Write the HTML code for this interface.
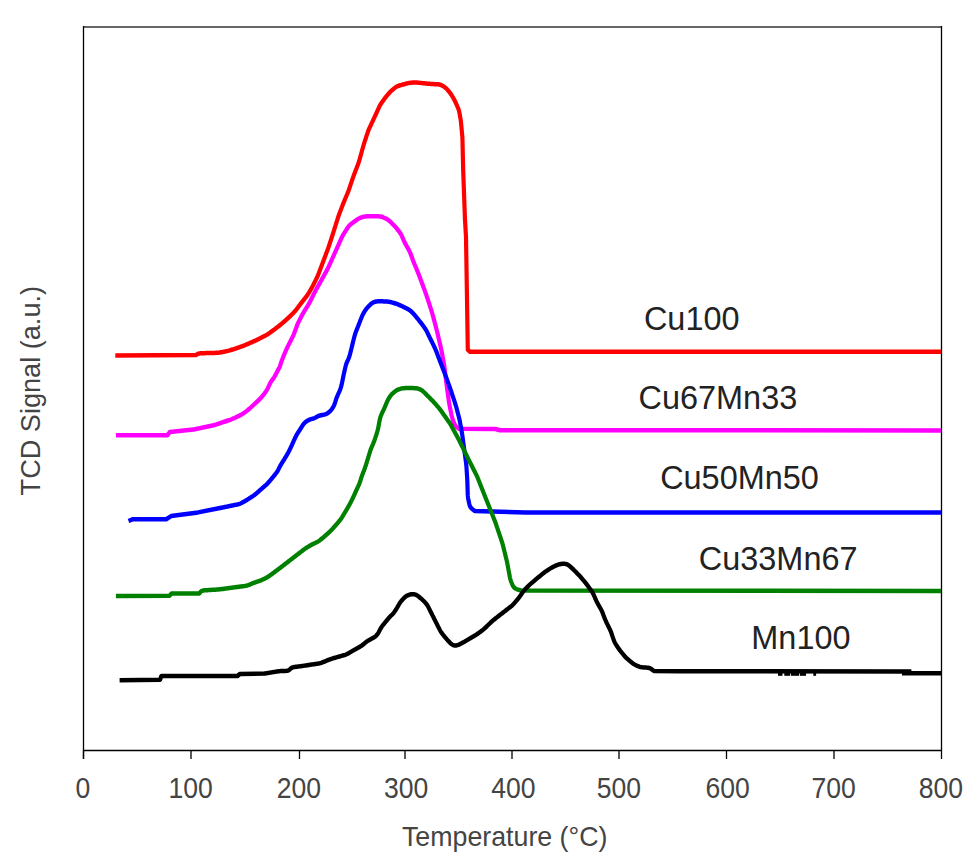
<!DOCTYPE html>
<html><head><meta charset="utf-8"><style>
html,body{margin:0;padding:0;background:#fff;}
body{width:979px;height:866px;overflow:hidden;}
svg{display:block;}
text{font-family:"Liberation Sans",sans-serif;fill:#222;}
.tl{font-size:29.5px;fill:#444;}
.sl{font-size:33px;}
.ax{font-size:28px;fill:#444;}
</style></head><body>
<svg width="979" height="866" viewBox="0 0 979 866">
<rect x="0" y="0" width="979" height="866" fill="#fff"/>
<line x1="83" y1="27" x2="941.5" y2="27" stroke="#666" stroke-width="2"/>
<line x1="941.5" y1="26" x2="941.5" y2="750.5" stroke="#000" stroke-width="1.3"/>
<line x1="83.5" y1="26" x2="83.5" y2="759" stroke="#000" stroke-width="1.3"/>
<line x1="83" y1="750.5" x2="942" y2="750.5" stroke="#000" stroke-width="1.3"/>
<line x1="83.5" y1="750" x2="83.5" y2="759" stroke="#000" stroke-width="1.3"/><line x1="191" y1="750" x2="191" y2="759" stroke="#000" stroke-width="1.3"/><line x1="299.5" y1="750" x2="299.5" y2="759" stroke="#000" stroke-width="1.3"/><line x1="405" y1="750" x2="405" y2="759" stroke="#000" stroke-width="1.3"/><line x1="512" y1="750" x2="512" y2="759" stroke="#000" stroke-width="1.3"/><line x1="619" y1="750" x2="619" y2="759" stroke="#000" stroke-width="1.3"/><line x1="726.5" y1="750" x2="726.5" y2="759" stroke="#000" stroke-width="1.3"/><line x1="834" y1="750" x2="834" y2="759" stroke="#000" stroke-width="1.3"/><line x1="941.5" y1="750" x2="941.5" y2="759" stroke="#000" stroke-width="1.3"/>
<path transform="scale(0.93,1)" d="M123.98,355.40L210.75,355.00L211.41,354.61L212.07,354.24L212.76,353.93L213.47,353.68L214.21,353.50L214.97,353.37L215.76,353.29L216.55,353.24L217.35,353.21L218.16,353.18L218.96,353.16L219.77,353.14L220.58,353.13L221.38,353.11L222.19,353.09L223.00,353.07L223.81,353.05L224.61,353.03L225.42,353.02L226.23,353.00L227.04,352.98L227.84,352.96L228.65,352.94L229.46,352.92L230.26,352.90L231.07,352.88L231.88,352.86L232.68,352.83L233.49,352.78L234.29,352.73L235.09,352.65L235.89,352.56L236.69,352.44L237.48,352.32L238.27,352.19L239.07,352.05L239.86,351.90L240.65,351.76L241.44,351.61L242.24,351.47L243.03,351.32L243.82,351.16L244.60,351.00L245.39,350.82L246.17,350.63L246.94,350.43L247.71,350.21L248.48,349.98L249.25,349.75L250.02,349.52L250.78,349.28L251.55,349.04L252.32,348.80L253.08,348.56L253.85,348.32L254.61,348.08L255.38,347.85L256.14,347.61L256.91,347.37L257.67,347.13L258.44,346.88L259.20,346.64L259.96,346.39L260.72,346.13L261.47,345.86L262.22,345.59L262.97,345.31L263.72,345.02L264.46,344.73L265.20,344.43L265.95,344.13L266.69,343.84L267.43,343.54L268.17,343.24L268.91,342.95L269.65,342.65L270.39,342.35L271.14,342.05L271.88,341.75L272.61,341.45L273.35,341.14L274.09,340.83L274.82,340.51L275.54,340.19L276.27,339.86L276.99,339.52L277.71,339.19L278.43,338.85L279.15,338.51L279.87,338.17L280.59,337.83L281.31,337.49L282.03,337.15L282.75,336.81L283.47,336.46L284.19,336.12L284.91,335.78L285.62,335.42L286.33,335.06L287.02,334.69L287.71,334.30L288.39,333.90L289.06,333.48L289.72,333.05L290.38,332.62L291.03,332.17L291.68,331.73L292.33,331.29L292.98,330.84L293.63,330.40L294.28,329.95L294.94,329.51L295.58,329.06L296.23,328.61L296.88,328.17L297.53,327.71L298.17,327.26L298.80,326.80L299.44,326.33L300.07,325.86L300.69,325.39L301.32,324.91L301.94,324.43L302.56,323.96L303.19,323.48L303.81,323.00L304.42,322.51L305.04,322.02L305.65,321.53L306.26,321.04L306.86,320.54L307.47,320.04L308.07,319.54L308.67,319.04L309.26,318.53L309.86,318.02L310.45,317.51L311.03,316.99L311.61,316.47L312.19,315.95L312.77,315.42L313.34,314.89L313.91,314.36L314.48,313.83L315.05,313.30L315.61,312.76L316.17,312.21L316.71,311.66L317.24,311.10L317.77,310.53L318.27,309.95L318.77,309.36L319.27,308.77L319.75,308.17L320.24,307.57L320.72,306.97L321.21,306.37L321.69,305.77L322.18,305.17L322.67,304.57L323.15,303.97L323.64,303.37L324.13,302.77L324.63,302.18L325.12,301.59L325.62,301.00L326.12,300.41L326.62,299.82L327.12,299.23L327.62,298.64L328.12,298.05L328.62,297.46L329.11,296.86L329.60,296.27L330.08,295.66L330.55,295.05L331.01,294.44L331.44,293.81L331.87,293.17L332.29,292.53L332.70,291.88L333.10,291.23L333.50,290.58L333.91,289.93L334.31,289.28L334.71,288.63L335.10,287.97L335.50,287.32L335.89,286.66L336.27,286.00L336.65,285.34L337.02,284.67L337.39,284.00L337.75,283.33L338.11,282.66L338.46,281.98L338.82,281.31L339.17,280.63L339.53,279.96L339.88,279.29L340.24,278.61L340.59,277.93L340.93,277.26L341.27,276.57L341.60,275.89L341.92,275.20L342.23,274.51L342.53,273.81L342.82,273.11L343.11,272.41L343.40,271.71L343.68,271.00L343.96,270.30L344.25,269.60L344.53,268.90L344.82,268.19L345.10,267.49L345.38,266.79L345.67,266.08L345.95,265.38L346.23,264.68L346.52,263.97L346.80,263.27L347.08,262.57L347.37,261.86L347.65,261.16L347.94,260.46L348.22,259.76L348.51,259.05L348.79,258.35L349.08,257.65L349.37,256.95L349.65,256.24L349.94,255.54L350.22,254.84L350.51,254.13L350.79,253.43L351.08,252.73L351.36,252.03L351.65,251.32L351.93,250.62L352.21,249.92L352.48,249.21L352.76,248.50L353.02,247.79L353.28,247.08L353.54,246.37L353.80,245.66L354.05,244.95L354.30,244.23L354.56,243.52L354.81,242.81L355.06,242.09L355.31,241.38L355.56,240.67L355.82,239.95L356.07,239.24L356.32,238.53L356.57,237.81L356.82,237.10L357.08,236.38L357.33,235.67L357.58,234.96L357.82,234.24L358.07,233.53L358.31,232.81L358.56,232.09L358.80,231.38L359.04,230.66L359.28,229.95L359.53,229.23L359.77,228.51L360.01,227.80L360.25,227.08L360.49,226.36L360.73,225.65L360.97,224.93L361.22,224.21L361.46,223.50L361.70,222.78L361.94,222.06L362.18,221.35L362.42,220.63L362.67,219.91L362.91,219.20L363.15,218.48L363.40,217.76L363.65,217.05L363.90,216.34L364.17,215.63L364.43,214.92L364.71,214.21L364.99,213.51L365.27,212.81L365.56,212.10L365.84,211.40L366.13,210.70L366.42,210.00L366.70,209.30L366.99,208.59L367.28,207.89L367.56,207.19L367.85,206.49L368.14,205.79L368.43,205.08L368.72,204.38L369.01,203.68L369.31,202.99L369.61,202.29L369.92,201.60L370.23,200.90L370.54,200.21L370.86,199.52L371.17,198.83L371.49,198.14L371.80,197.44L372.12,196.75L372.43,196.06L372.75,195.37L373.06,194.68L373.37,193.99L373.68,193.29L373.98,192.60L374.28,191.90L374.57,191.20L374.85,190.49L375.12,189.78L375.38,189.08L375.64,188.37L375.90,187.65L376.16,186.94L376.42,186.23L376.67,185.52L376.93,184.81L377.19,184.09L377.45,183.38L377.70,182.67L377.96,181.96L378.22,181.25L378.47,180.53L378.73,179.82L378.99,179.11L379.25,178.40L379.52,177.69L379.79,176.98L380.07,176.28L380.34,175.57L380.63,174.87L380.91,174.17L381.20,173.47L381.49,172.77L381.78,172.06L382.07,171.36L382.36,170.66L382.65,169.96L382.94,169.26L383.23,168.56L383.51,167.86L383.80,167.16L384.09,166.45L384.38,165.75L384.67,165.05L384.95,164.35L385.22,163.64L385.49,162.93L385.75,162.22L385.99,161.51L386.23,160.79L386.46,160.07L386.68,159.35L386.90,158.63L387.11,157.90L387.33,157.18L387.55,156.46L387.76,155.73L387.98,155.01L388.19,154.28L388.41,153.56L388.62,152.84L388.84,152.11L389.05,151.39L389.27,150.66L389.49,149.94L389.70,149.22L389.92,148.49L390.13,147.77L390.35,147.05L390.57,146.32L390.80,145.60L391.03,144.88L391.26,144.17L391.50,143.45L391.74,142.73L391.99,142.02L392.24,141.30L392.49,140.59L392.75,139.88L393.00,139.16L393.25,138.45L393.50,137.74L393.75,137.02L394.01,136.31L394.26,135.60L394.51,134.88L394.76,134.17L395.02,133.46L395.28,132.74L395.54,132.03L395.81,131.33L396.09,130.62L396.38,129.93L396.69,129.23L397.01,128.54L397.34,127.86L397.67,127.18L398.01,126.50L398.36,125.82L398.70,125.14L399.05,124.46L399.39,123.78L399.73,123.10L400.08,122.42L400.42,121.74L400.77,121.06L401.11,120.38L401.46,119.70L401.80,119.02L402.14,118.34L402.49,117.66L402.83,116.98L403.17,116.30L403.51,115.62L403.84,114.94L404.18,114.25L404.51,113.57L404.84,112.89L405.18,112.20L405.51,111.52L405.84,110.83L406.17,110.15L406.51,109.46L406.84,108.78L407.17,108.10L407.51,107.42L407.86,106.74L408.21,106.07L408.59,105.40L408.98,104.75L409.39,104.11L409.82,103.48L410.27,102.86L410.73,102.24L411.20,101.63L411.67,101.02L412.14,100.41L412.61,99.80L413.09,99.19L413.57,98.59L414.06,97.99L414.55,97.40L415.05,96.81L415.56,96.23L416.07,95.64L416.58,95.07L417.10,94.49L417.62,93.92L418.15,93.35L418.68,92.79L419.23,92.24L419.79,91.70L420.36,91.17L420.95,90.66L421.55,90.16L422.15,89.67L422.77,89.18L423.39,88.70L424.01,88.23L424.65,87.78L425.29,87.34L425.96,86.94L426.65,86.58L427.36,86.26L428.09,85.98L428.84,85.73L429.61,85.50L430.38,85.29L431.15,85.08L431.93,84.88L432.71,84.67L433.48,84.47L434.26,84.27L435.04,84.06L435.81,83.86L436.59,83.66L437.37,83.47L438.15,83.29L438.94,83.13L439.72,82.99L440.52,82.87L441.32,82.78L442.12,82.71L442.92,82.65L443.72,82.60L444.53,82.57L445.33,82.54L446.14,82.53L446.94,82.53L447.75,82.55L448.55,82.59L449.36,82.65L450.16,82.72L450.96,82.79L451.76,82.87L452.57,82.96L453.37,83.04L454.17,83.12L454.97,83.20L455.78,83.28L456.58,83.35L457.39,83.43L458.19,83.50L458.99,83.57L459.80,83.64L460.60,83.71L461.40,83.78L462.21,83.85L463.01,83.91L463.82,83.96L464.62,84.01L465.43,84.05L466.24,84.09L467.04,84.13L467.85,84.16L468.66,84.20L469.46,84.24L470.26,84.29L471.06,84.35L471.85,84.44L472.62,84.57L473.38,84.75L474.12,84.98L474.84,85.26L475.55,85.59L476.24,85.96L476.92,86.35L477.58,86.77L478.22,87.21L478.85,87.68L479.44,88.17L480.02,88.68L480.58,89.22L481.13,89.77L481.66,90.33L482.19,90.89L482.71,91.47L483.22,92.04L483.72,92.63L484.21,93.23L484.68,93.83L485.13,94.45L485.56,95.08L485.98,95.72L486.39,96.37L486.80,97.02L487.21,97.67L487.60,98.32L488.00,98.97L488.39,99.63L488.76,100.30L489.13,100.96L489.48,101.64L489.83,102.31L490.17,103.00L490.50,103.68L490.83,104.36L491.16,105.05L491.49,105.74L491.82,106.42L492.14,107.11L492.45,107.80L492.74,108.50L493.01,109.20L493.26,109.91L493.48,110.63L493.67,111.35L493.84,112.08L494.00,112.82L494.15,113.55L494.29,114.29L494.44,115.03L494.58,115.77L494.72,116.51L494.86,117.25L495.00,117.99L495.13,118.73L495.26,119.47L495.38,120.21L495.50,120.96L495.60,121.70L495.70,122.45L495.79,123.19L495.87,123.94L495.94,124.69L496.02,125.43L496.09,126.18L496.17,126.93L496.24,127.68L496.32,128.43L496.39,129.17L496.46,129.92L496.54,130.67L496.61,131.42L496.69,132.16L496.76,132.91L496.83,133.66L496.91,134.41L496.98,135.16L497.06,135.90L497.13,136.65L497.20,137.40L498.06,170.90L500.00,220.00L501.08,237.00L502.04,292.40L503.01,349.70L505.38,351.70L1011.83,351.80" fill="none" stroke="#ff0000" stroke-width="4.5" stroke-linejoin="round" stroke-linecap="butt"/>
<path transform="scale(0.93,1)" d="M124.62,435.30L180.00,435.20L182.69,432.00L207.74,429.60L208.53,429.44L209.32,429.29L210.11,429.13L210.90,428.97L211.69,428.82L212.48,428.66L213.26,428.50L214.05,428.35L214.84,428.19L215.63,428.03L216.42,427.88L217.21,427.72L218.00,427.56L218.79,427.41L219.58,427.25L220.37,427.09L221.15,426.94L221.94,426.78L222.73,426.62L223.52,426.46L224.31,426.31L225.10,426.15L225.89,425.99L226.68,425.84L227.47,425.68L228.25,425.52L229.04,425.35L229.82,425.18L230.61,425.00L231.38,424.81L232.16,424.60L232.93,424.38L233.70,424.15L234.46,423.92L235.23,423.68L235.99,423.43L236.75,423.19L237.52,422.95L238.28,422.70L239.04,422.46L239.81,422.22L240.57,421.97L241.33,421.73L242.10,421.49L242.86,421.24L243.62,421.00L244.38,420.76L245.15,420.51L245.91,420.27L246.67,420.02L247.43,419.77L248.19,419.52L248.94,419.25L249.69,418.98L250.44,418.69L251.18,418.39L251.91,418.09L252.64,417.77L253.37,417.45L254.10,417.13L254.83,416.81L255.56,416.48L256.28,416.16L257.01,415.83L257.73,415.49L258.44,415.14L259.15,414.78L259.85,414.41L260.54,414.02L261.22,413.63L261.90,413.22L262.57,412.81L263.23,412.38L263.88,411.94L264.53,411.50L265.17,411.04L265.80,410.57L266.43,410.10L267.04,409.62L267.66,409.13L268.26,408.64L268.86,408.14L269.46,407.63L270.06,407.13L270.65,406.62L271.24,406.11L271.84,405.60L272.43,405.10L273.03,404.59L273.63,404.09L274.22,403.58L274.82,403.08L275.42,402.57L276.01,402.07L276.60,401.56L277.19,401.04L277.78,400.53L278.35,400.00L278.92,399.47L279.47,398.93L280.02,398.38L280.56,397.82L281.09,397.25L281.61,396.68L282.13,396.11L282.65,395.53L283.15,394.95L283.66,394.36L284.15,393.77L284.63,393.17L285.10,392.56L285.56,391.95L286.01,391.33L286.44,390.70L286.86,390.06L287.26,389.41L287.64,388.75L288.01,388.09L288.37,387.41L288.71,386.74L289.05,386.05L289.38,385.37L289.71,384.69L290.04,384.01L290.39,383.34L290.76,382.68L291.16,382.05L291.60,381.43L292.06,380.82L292.54,380.23L293.02,379.63L293.50,379.03L293.96,378.42L294.41,377.80L294.83,377.17L295.24,376.52L295.63,375.87L296.02,375.21L296.40,374.55L296.77,373.89L297.14,373.22L297.51,372.55L297.89,371.89L298.27,371.23L298.65,370.57L299.04,369.91L299.43,369.26L299.80,368.60L300.17,367.93L300.51,367.26L300.82,366.57L301.11,365.88L301.38,365.17L301.63,364.46L301.88,363.75L302.12,363.04L302.37,362.32L302.63,361.61L302.90,360.91L303.18,360.20L303.47,359.50L303.76,358.81L304.05,358.11L304.35,357.41L304.65,356.71L304.95,356.02L305.25,355.32L305.56,354.63L305.86,353.93L306.18,353.24L306.49,352.55L306.81,351.86L307.13,351.17L307.45,350.48L307.78,349.80L308.11,349.11L308.44,348.43L308.79,347.75L309.13,347.08L309.49,346.40L309.85,345.73L310.21,345.06L310.57,344.39L310.94,343.72L311.30,343.05L311.67,342.38L312.03,341.71L312.40,341.04L312.76,340.38L313.13,339.71L313.49,339.04L313.86,338.37L314.22,337.70L314.57,337.02L314.92,336.35L315.26,335.67L315.59,334.99L315.90,334.30L316.20,333.60L316.49,332.90L316.78,332.20L317.05,331.49L317.33,330.79L317.60,330.08L317.88,329.38L318.15,328.67L318.43,327.97L318.70,327.26L318.98,326.56L319.26,325.86L319.55,325.16L319.86,324.46L320.17,323.77L320.50,323.09L320.84,322.41L321.19,321.74L321.55,321.06L321.91,320.39L322.27,319.72L322.63,319.05L323.00,318.38L323.36,317.71L323.73,317.04L324.09,316.38L324.46,315.71L324.84,315.05L325.22,314.39L325.62,313.73L326.02,313.08L326.43,312.44L326.85,311.80L327.27,311.16L327.70,310.52L328.13,309.89L328.55,309.25L328.98,308.61L329.41,307.98L329.84,307.34L330.27,306.71L330.69,306.07L331.11,305.43L331.53,304.79L331.94,304.14L332.34,303.49L332.72,302.83L333.10,302.17L333.47,301.50L333.83,300.83L334.20,300.16L334.56,299.49L334.92,298.82L335.27,298.15L335.63,297.48L335.99,296.80L336.35,296.13L336.71,295.46L337.07,294.79L337.43,294.12L337.79,293.44L338.15,292.77L338.51,292.11L338.88,291.44L339.26,290.78L339.64,290.11L340.03,289.46L340.42,288.80L340.81,288.14L341.20,287.49L341.60,286.83L341.99,286.18L342.38,285.52L342.78,284.87L343.17,284.22L343.57,283.56L343.96,282.91L344.36,282.25L344.75,281.60L345.15,280.94L345.54,280.29L345.93,279.63L346.32,278.98L346.71,278.32L347.10,277.66L347.49,277.00L347.88,276.35L348.27,275.69L348.65,275.03L349.04,274.37L349.43,273.71L349.82,273.06L350.20,272.40L350.59,271.74L350.98,271.08L351.36,270.42L351.74,269.76L352.12,269.10L352.49,268.43L352.85,267.76L353.20,267.08L353.54,266.41L353.88,265.73L354.21,265.04L354.55,264.36L354.88,263.67L355.21,262.99L355.54,262.30L355.87,261.62L356.19,260.93L356.52,260.25L356.85,259.56L357.18,258.88L357.51,258.19L357.84,257.51L358.17,256.82L358.50,256.14L358.83,255.46L359.16,254.77L359.49,254.09L359.82,253.40L360.15,252.72L360.48,252.03L360.81,251.35L361.14,250.66L361.47,249.98L361.80,249.29L362.12,248.61L362.45,247.92L362.78,247.24L363.11,246.55L363.44,245.87L363.77,245.18L364.10,244.50L364.43,243.81L364.76,243.13L365.09,242.44L365.42,241.76L365.75,241.07L366.08,240.39L366.41,239.70L366.74,239.02L367.07,238.34L367.41,237.66L367.77,236.98L368.13,236.31L368.51,235.65L368.90,235.00L369.31,234.35L369.72,233.71L370.15,233.08L370.58,232.44L371.01,231.81L371.44,231.17L371.87,230.54L372.30,229.91L372.74,229.27L373.17,228.64L373.61,228.02L374.06,227.40L374.53,226.80L375.02,226.22L375.55,225.66L376.10,225.13L376.69,224.63L377.30,224.15L377.93,223.69L378.57,223.24L379.21,222.79L379.86,222.35L380.51,221.90L381.16,221.46L381.82,221.02L382.47,220.58L383.12,220.14L383.78,219.72L384.45,219.31L385.13,218.92L385.83,218.55L386.54,218.22L387.27,217.92L388.02,217.64L388.77,217.39L389.53,217.15L390.30,216.94L391.07,216.76L391.85,216.61L392.64,216.49L393.44,216.41L394.24,216.34L395.04,216.29L395.84,216.26L396.65,216.23L397.45,216.20L398.26,216.18L399.07,216.16L399.87,216.16L400.68,216.16L401.49,216.16L402.29,216.18L403.10,216.20L403.90,216.22L404.71,216.24L405.52,216.27L406.32,216.30L407.12,216.34L407.92,216.40L408.71,216.49L409.49,216.61L410.26,216.77L411.02,216.98L411.77,217.23L412.50,217.51L413.24,217.81L413.96,218.13L414.69,218.46L415.40,218.80L416.10,219.17L416.78,219.55L417.44,219.97L418.07,220.41L418.68,220.89L419.28,221.38L419.86,221.90L420.44,222.42L421.01,222.95L421.58,223.48L422.15,224.01L422.72,224.54L423.28,225.08L423.84,225.62L424.39,226.16L424.93,226.72L425.47,227.28L425.99,227.85L426.50,228.43L427.01,229.01L427.52,229.59L428.02,230.18L428.52,230.77L429.02,231.36L429.50,231.96L429.97,232.56L430.42,233.18L430.84,233.81L431.23,234.46L431.60,235.12L431.95,235.79L432.29,236.47L432.62,237.16L432.94,237.84L433.26,238.53L433.58,239.22L433.91,239.91L434.23,240.59L434.56,241.28L434.90,241.96L435.24,242.64L435.60,243.31L435.97,243.97L436.35,244.63L436.74,245.29L437.13,245.94L437.54,246.59L437.94,247.24L438.34,247.90L438.74,248.55L439.14,249.20L439.52,249.86L439.90,250.52L440.26,251.18L440.61,251.86L440.93,252.54L441.24,253.24L441.53,253.93L441.81,254.63L442.09,255.34L442.37,256.04L442.64,256.75L442.92,257.45L443.19,258.16L443.47,258.86L443.75,259.57L444.03,260.27L444.32,260.97L444.61,261.67L444.91,262.37L445.22,263.06L445.53,263.75L445.84,264.44L446.15,265.14L446.47,265.83L446.78,266.52L447.09,267.21L447.41,267.90L447.72,268.59L448.03,269.29L448.34,269.98L448.64,270.67L448.94,271.37L449.24,272.07L449.53,272.77L449.82,273.47L450.11,274.17L450.39,274.87L450.68,275.57L450.96,276.27L451.25,276.98L451.53,277.68L451.82,278.38L452.10,279.08L452.39,279.78L452.67,280.49L452.96,281.19L453.24,281.89L453.53,282.59L453.81,283.30L454.09,284.00L454.37,284.70L454.65,285.41L454.93,286.11L455.21,286.81L455.49,287.52L455.77,288.22L456.05,288.92L456.33,289.63L456.61,290.33L456.89,291.04L457.16,291.74L457.43,292.45L457.69,293.16L457.96,293.87L458.22,294.58L458.48,295.29L458.74,296.00L459.00,296.71L459.26,297.42L459.52,298.13L459.78,298.84L460.04,299.55L460.29,300.26L460.55,300.97L460.81,301.68L461.06,302.40L461.31,303.11L461.56,303.82L461.81,304.54L462.06,305.25L462.31,305.96L462.56,306.68L462.81,307.39L463.05,308.10L463.30,308.82L463.53,309.54L463.77,310.26L464.00,310.97L464.22,311.69L464.45,312.42L464.67,313.14L464.89,313.86L465.11,314.58L465.33,315.30L465.55,316.02L465.76,316.75L465.98,317.47L466.20,318.19L466.41,318.92L466.62,319.64L466.83,320.36L467.04,321.09L467.25,321.82L467.45,322.54L467.66,323.27L467.86,323.99L468.07,324.72L468.27,325.44L468.48,326.17L468.68,326.89L468.89,327.62L469.09,328.35L469.29,329.07L469.49,329.80L469.68,330.53L469.88,331.26L470.08,331.98L470.27,332.71L470.46,333.44L470.66,334.17L470.85,334.90L471.04,335.63L471.22,336.36L471.41,337.09L471.59,337.82L471.77,338.55L471.95,339.28L472.13,340.01L472.32,340.74L472.50,341.47L472.68,342.21L472.86,342.94L473.04,343.67L473.22,344.40L473.40,345.13L473.58,345.86L473.76,346.59L473.94,347.32L474.12,348.06L474.30,348.79L474.47,349.52L474.64,350.26L474.80,350.99L474.96,351.73L475.11,352.46L475.26,353.20L475.41,353.94L475.55,354.68L475.70,355.41L475.84,356.15L475.99,356.89L476.13,357.63L476.28,358.37L476.42,359.10L476.57,359.84L476.71,360.58L476.86,361.32L477.00,362.06L477.15,362.79L477.29,363.53L477.43,364.27L477.56,365.01L477.68,365.75L477.80,366.49L477.91,367.24L478.02,367.98L478.12,368.73L478.22,369.47L478.31,370.22L478.41,370.96L478.51,371.70L478.60,372.45L478.70,373.19L478.80,373.94L478.89,374.68L478.99,375.43L479.09,376.17L479.18,376.92L479.28,377.66L479.38,378.41L479.47,379.15L479.57,379.90L479.67,380.64L479.77,381.39L479.87,382.13L479.97,382.88L480.07,383.62L480.18,384.36L480.29,385.11L480.39,385.85L480.50,386.60L480.61,387.34L480.72,388.08L480.82,388.83L480.93,389.57L481.04,390.31L481.15,391.06L481.25,391.80L481.36,392.54L481.47,393.29L481.58,394.03L481.68,394.78L481.79,395.52L481.90,396.26L482.01,397.01L482.11,397.75L482.22,398.49L482.33,399.24L482.44,399.98L482.55,400.72L482.67,401.47L482.79,402.21L482.91,402.95L483.05,403.69L483.19,404.43L483.34,405.16L483.49,405.90L483.65,406.64L483.81,407.37L483.97,408.11L484.13,408.84L484.28,409.58L484.44,410.31L484.60,411.05L484.76,411.78L484.92,412.52L485.08,413.26L485.25,413.99L485.41,414.72L485.59,415.45L485.77,416.18L485.97,416.91L486.18,417.63L486.41,418.35L486.65,419.07L486.90,419.78L487.15,420.49L487.41,421.20L487.67,421.91L487.95,422.61L488.24,423.30L488.57,423.96L488.93,424.61L489.35,425.21L489.82,425.79L490.34,426.33L490.91,426.85L491.49,427.35L492.10,427.84L492.72,428.32L493.33,428.80L532.69,429.00L537.63,430.20L1011.83,430.40" fill="none" stroke="#ff00ff" stroke-width="4.5" stroke-linejoin="round" stroke-linecap="butt"/>
<path transform="scale(0.93,1)" d="M138.17,521.00L143.01,519.20L178.71,519.20L183.98,516.10L213.01,512.40L239.35,507.50L240.15,507.35L240.94,507.20L241.73,507.04L242.52,506.89L243.31,506.74L244.10,506.59L244.89,506.44L245.68,506.28L246.47,506.13L247.26,505.98L248.05,505.83L248.84,505.68L249.63,505.52L250.42,505.37L251.21,505.22L252.00,505.07L252.79,504.91L253.58,504.76L254.37,504.60L255.15,504.44L255.93,504.26L256.71,504.06L257.47,503.84L258.21,503.58L258.95,503.29L259.67,502.97L260.39,502.63L261.10,502.28L261.80,501.92L262.50,501.55L263.20,501.17L263.90,500.79L264.59,500.41L265.28,500.02L265.97,499.63L266.65,499.23L267.34,498.83L268.02,498.43L268.70,498.02L269.38,497.62L270.05,497.21L270.73,496.80L271.41,496.39L272.07,495.97L272.74,495.55L273.39,495.11L274.03,494.65L274.66,494.19L275.28,493.71L275.89,493.22L276.50,492.73L277.10,492.23L277.71,491.73L278.31,491.24L278.91,490.74L279.52,490.24L280.13,489.75L280.74,489.26L281.35,488.77L281.96,488.28L282.58,487.79L283.19,487.31L283.81,486.82L284.42,486.33L285.03,485.84L285.63,485.34L286.21,484.83L286.79,484.31L287.35,483.77L287.90,483.23L288.45,482.67L288.98,482.11L289.51,481.54L290.04,480.97L290.56,480.41L291.09,479.84L291.61,479.26L292.13,478.69L292.64,478.11L293.16,477.53L293.66,476.95L294.16,476.36L294.66,475.77L295.16,475.18L295.66,474.59L296.15,473.99L296.65,473.40L297.13,472.80L297.60,472.20L298.06,471.58L298.50,470.96L298.90,470.32L299.29,469.67L299.65,469.00L300.00,468.33L300.35,467.65L300.70,466.98L301.06,466.31L301.44,465.65L301.83,465.00L302.24,464.35L302.66,463.71L303.09,463.08L303.52,462.44L303.95,461.81L304.38,461.17L304.81,460.54L305.24,459.90L305.67,459.26L306.09,458.63L306.52,457.99L306.94,457.35L307.36,456.71L307.78,456.07L308.20,455.42L308.61,454.78L309.01,454.13L309.40,453.47L309.79,452.82L310.16,452.15L310.53,451.49L310.90,450.82L311.26,450.15L311.62,449.47L311.98,448.80L312.33,448.12L312.68,447.45L313.02,446.77L313.35,446.09L313.69,445.40L314.02,444.72L314.34,444.03L314.67,443.35L315.00,442.66L315.33,441.97L315.66,441.29L316.00,440.61L316.33,439.92L316.67,439.24L317.01,438.56L317.35,437.88L317.69,437.20L318.05,436.53L318.41,435.86L318.78,435.20L319.18,434.54L319.58,433.90L320.01,433.26L320.44,432.63L320.88,432.00L321.33,431.38L321.77,430.75L322.21,430.12L322.65,429.49L323.08,428.86L323.51,428.22L323.93,427.58L324.35,426.94L324.77,426.30L325.20,425.67L325.63,425.04L326.09,424.43L326.57,423.85L327.09,423.30L327.65,422.78L328.24,422.29L328.86,421.84L329.51,421.40L330.17,420.98L330.85,420.59L331.54,420.22L332.24,419.88L332.97,419.59L333.71,419.34L334.46,419.12L335.23,418.92L336.00,418.73L336.76,418.52L337.50,418.28L338.24,418.00L338.95,417.69L339.66,417.34L340.35,416.99L341.05,416.63L341.76,416.29L342.48,415.99L343.21,415.73L343.97,415.51L344.73,415.32L345.51,415.17L346.30,415.03L347.09,414.89L347.88,414.75L348.66,414.59L349.42,414.40L350.17,414.17L350.89,413.89L351.59,413.56L352.26,413.18L352.91,412.76L353.54,412.31L354.14,411.83L354.73,411.32L355.29,410.79L355.82,410.24L356.33,409.66L356.82,409.07L357.28,408.46L357.72,407.84L358.13,407.20L358.52,406.55L358.88,405.88L359.22,405.21L359.53,404.52L359.82,403.82L360.10,403.12L360.35,402.41L360.60,401.69L360.83,400.98L361.07,400.26L361.31,399.55L361.56,398.84L361.83,398.13L362.12,397.43L362.42,396.74L362.73,396.05L363.06,395.36L363.38,394.67L363.71,393.99L364.04,393.30L364.37,392.62L364.69,391.93L365.01,391.24L365.32,390.55L365.61,389.85L365.89,389.15L366.16,388.44L366.41,387.73L366.64,387.01L366.87,386.29L367.08,385.57L367.27,384.84L367.46,384.11L367.64,383.38L367.81,382.65L367.97,381.91L368.13,381.18L368.30,380.44L368.46,379.71L368.62,378.97L368.78,378.24L368.94,377.50L369.11,376.77L369.27,376.03L369.44,375.30L369.60,374.56L369.77,373.83L369.94,373.09L370.11,372.36L370.29,371.63L370.46,370.89L370.64,370.16L370.81,369.43L370.99,368.70L371.17,367.96L371.35,367.23L371.54,366.51L371.74,365.78L371.96,365.06L372.21,364.35L372.47,363.65L372.76,362.95L373.07,362.26L373.38,361.57L373.71,360.88L374.03,360.20L374.36,359.51L374.67,358.82L374.98,358.13L375.27,357.43L375.53,356.72L375.78,356.01L376.01,355.29L376.23,354.57L376.44,353.85L376.64,353.12L376.84,352.40L377.04,351.67L377.24,350.94L377.43,350.21L377.63,349.48L377.82,348.76L378.02,348.03L378.21,347.30L378.40,346.57L378.59,345.84L378.78,345.11L378.97,344.38L379.16,343.65L379.35,342.92L379.54,342.19L379.73,341.46L379.93,340.73L380.12,340.01L380.32,339.28L380.52,338.55L380.73,337.82L380.93,337.10L381.14,336.37L381.35,335.65L381.57,334.93L381.80,334.21L382.05,333.50L382.31,332.79L382.59,332.08L382.87,331.38L383.16,330.68L383.46,329.99L383.76,329.29L384.06,328.59L384.36,327.90L384.66,327.20L384.95,326.50L385.25,325.80L385.54,325.10L385.84,324.40L386.13,323.70L386.42,323.00L386.71,322.30L387.00,321.60L387.29,320.90L387.59,320.20L387.88,319.50L388.17,318.81L388.47,318.11L388.78,317.41L389.09,316.72L389.42,316.04L389.76,315.36L390.11,314.69L390.48,314.02L390.86,313.36L391.24,312.70L391.64,312.05L392.05,311.41L392.48,310.77L392.93,310.15L393.40,309.55L393.88,308.95L394.38,308.37L394.90,307.79L395.43,307.23L395.97,306.67L396.52,306.13L397.08,305.59L397.66,305.07L398.24,304.56L398.84,304.07L399.47,303.60L400.11,303.17L400.78,302.78L401.48,302.44L402.19,302.14L402.93,301.88L403.69,301.68L404.46,301.53L405.24,301.43L406.04,301.37L406.83,301.33L407.64,301.32L408.44,301.31L409.25,301.32L410.06,301.32L410.86,301.34L411.67,301.36L412.48,301.38L413.28,301.41L414.09,301.44L414.89,301.48L415.70,301.52L416.50,301.58L417.30,301.65L418.09,301.75L418.88,301.87L419.67,302.02L420.45,302.19L421.23,302.38L422.01,302.58L422.78,302.80L423.55,303.02L424.32,303.24L425.08,303.48L425.85,303.72L426.61,303.97L427.37,304.23L428.12,304.49L428.87,304.77L429.61,305.06L430.35,305.35L431.09,305.66L431.82,305.97L432.55,306.29L433.28,306.61L434.01,306.94L434.74,307.27L435.46,307.60L436.18,307.93L436.90,308.27L437.62,308.61L438.33,308.96L439.03,309.33L439.71,309.72L440.37,310.13L441.01,310.57L441.63,311.04L442.23,311.54L442.81,312.05L443.38,312.58L443.94,313.11L444.50,313.66L445.04,314.21L445.57,314.77L446.10,315.34L446.61,315.92L447.13,316.50L447.64,317.08L448.14,317.66L448.65,318.25L449.16,318.83L449.66,319.42L450.17,320.00L450.67,320.59L451.17,321.18L451.67,321.77L452.18,322.35L452.68,322.94L453.17,323.53L453.67,324.13L454.16,324.72L454.64,325.32L455.12,325.93L455.59,326.54L456.05,327.15L456.50,327.77L456.95,328.40L457.39,329.02L457.82,329.66L458.24,330.30L458.63,330.95L459.01,331.61L459.38,332.28L459.73,332.95L460.07,333.63L460.41,334.31L460.74,334.99L461.08,335.67L461.43,336.35L461.78,337.03L462.14,337.70L462.50,338.37L462.86,339.04L463.23,339.71L463.60,340.38L463.96,341.05L464.33,341.72L464.69,342.39L465.05,343.06L465.40,343.73L465.75,344.41L466.10,345.09L466.44,345.77L466.78,346.45L467.12,347.13L467.46,347.81L467.80,348.49L468.13,349.18L468.45,349.86L468.77,350.55L469.07,351.25L469.37,351.95L469.66,352.64L469.95,353.35L470.23,354.05L470.51,354.75L470.79,355.46L471.08,356.16L471.36,356.86L471.64,357.57L471.92,358.27L472.20,358.97L472.49,359.68L472.77,360.38L473.06,361.08L473.35,361.78L473.64,362.48L473.93,363.18L474.23,363.88L474.52,364.58L474.81,365.28L475.10,365.98L475.39,366.68L475.69,367.38L475.98,368.08L476.27,368.78L476.56,369.48L476.86,370.18L477.15,370.88L477.44,371.58L477.73,372.28L478.02,372.98L478.30,373.68L478.59,374.38L478.87,375.09L479.15,375.79L479.42,376.50L479.70,377.20L479.98,377.91L480.25,378.61L480.52,379.32L480.80,380.02L481.07,380.73L481.35,381.44L481.62,382.14L481.90,382.85L482.17,383.55L482.45,384.26L482.72,384.97L483.00,385.67L483.27,386.38L483.54,387.08L483.81,387.79L484.08,388.50L484.35,389.21L484.61,389.92L484.87,390.63L485.13,391.34L485.38,392.05L485.63,392.76L485.89,393.48L486.14,394.19L486.39,394.90L486.65,395.62L486.90,396.33L487.15,397.04L487.40,397.75L487.66,398.47L487.91,399.18L488.16,399.89L488.41,400.61L488.66,401.32L488.92,402.03L489.17,402.75L489.42,403.46L489.66,404.17L489.91,404.89L490.14,405.61L490.37,406.33L490.59,407.05L490.81,407.77L491.02,408.50L491.22,409.22L491.43,409.95L491.63,410.67L491.84,411.40L492.04,412.13L492.24,412.85L492.45,413.58L492.65,414.31L492.86,415.03L493.06,415.76L493.26,416.49L493.46,417.21L493.66,417.94L493.85,418.67L494.03,419.40L494.20,420.13L494.37,420.87L494.52,421.60L494.67,422.34L494.82,423.08L494.96,423.82L495.10,424.56L495.24,425.30L495.38,426.03L495.53,426.77L495.67,427.51L495.81,428.25L495.95,428.99L496.09,429.73L496.23,430.47L496.37,431.21L496.51,431.95L496.65,432.69L496.79,433.43L496.92,434.17L497.04,434.91L497.17,435.65L497.28,436.39L497.40,437.14L497.51,437.88L497.62,438.62L497.72,439.37L497.83,440.11L497.94,440.86L498.04,441.60L498.15,442.34L498.26,443.09L498.36,443.83L498.47,444.58L498.58,445.32L498.68,446.06L498.79,446.81L498.90,447.55L499.00,448.30L499.11,449.04L499.22,449.78L499.33,450.53L499.43,451.27L499.54,452.01L499.65,452.76L499.76,453.50L499.87,454.25L499.98,454.99L500.09,455.73L500.19,456.48L500.30,457.22L500.41,457.97L500.52,458.71L500.63,459.45L500.74,460.20L500.85,460.94L500.95,461.68L501.06,462.43L501.16,463.17L501.25,463.92L501.33,464.66L501.41,465.41L501.48,466.16L501.54,466.91L501.60,467.66L501.66,468.40L501.71,469.15L501.76,469.90L501.82,470.65L501.87,471.40L501.92,472.15L501.97,472.90L502.03,473.65L502.08,474.40L502.13,475.15L502.18,475.89L502.24,476.64L502.29,477.39L502.34,478.14L502.38,478.89L502.42,479.64L502.46,480.39L502.50,481.14L502.53,481.89L502.55,482.64L502.58,483.39L502.60,484.14L502.63,484.89L502.65,485.64L502.68,486.39L502.70,487.14L502.72,487.89L502.75,488.64L502.77,489.39L502.79,490.14L502.82,490.89L502.84,491.64L502.87,492.39L502.89,493.14L502.92,493.89L502.96,494.64L503.00,495.39L503.07,496.14L503.15,496.88L503.25,497.62L503.38,498.36L503.52,499.10L503.67,499.83L503.83,500.57L503.99,501.30L504.16,502.04L504.33,502.77L504.50,503.50L504.69,504.23L504.89,504.94L505.13,505.63L505.41,506.30L505.76,506.92L506.18,507.51L506.67,508.06L507.21,508.57L507.80,509.05L508.41,509.53L509.04,509.99L509.68,510.44L510.32,510.90L565.05,512.50L1011.83,512.50" fill="none" stroke="#0000ff" stroke-width="4.5" stroke-linejoin="round" stroke-linecap="butt"/>
<path transform="scale(0.93,1)" d="M124.62,596.00L182.26,595.80L184.41,593.40L214.30,593.50L214.75,592.91L215.22,592.34L215.71,591.83L216.26,591.38L216.86,591.03L217.52,590.75L218.23,590.56L218.97,590.43L219.75,590.34L220.54,590.27L221.34,590.22L222.14,590.17L222.95,590.13L223.75,590.08L224.56,590.04L225.36,589.99L226.17,589.95L226.97,589.90L227.78,589.86L228.58,589.81L229.39,589.77L230.19,589.72L231.00,589.68L231.80,589.63L232.61,589.59L233.41,589.54L234.22,589.48L235.02,589.42L235.82,589.35L236.63,589.28L237.43,589.19L238.23,589.10L239.03,589.00L239.83,588.90L240.62,588.80L241.42,588.70L242.22,588.60L243.02,588.49L243.82,588.39L244.62,588.28L245.42,588.18L246.22,588.08L247.02,587.97L247.81,587.87L248.61,587.77L249.41,587.67L250.21,587.57L251.01,587.47L251.81,587.37L252.61,587.27L253.41,587.18L254.21,587.08L255.01,586.98L255.81,586.89L256.61,586.79L257.41,586.70L258.21,586.60L259.01,586.50L259.81,586.41L260.61,586.31L261.41,586.21L262.21,586.11L263.00,586.00L263.79,585.87L264.58,585.73L265.36,585.55L266.12,585.35L266.88,585.12L267.64,584.86L268.38,584.59L269.13,584.31L269.87,584.02L270.62,583.74L271.37,583.46L272.12,583.19L272.88,582.93L273.63,582.68L274.39,582.43L275.16,582.19L275.92,581.94L276.68,581.69L277.44,581.44L278.20,581.19L278.95,580.92L279.70,580.65L280.45,580.36L281.19,580.07L281.93,579.78L282.67,579.48L283.40,579.17L284.13,578.85L284.85,578.52L285.56,578.17L286.27,577.81L286.96,577.43L287.65,577.04L288.33,576.64L289.01,576.24L289.68,575.82L290.35,575.40L291.01,574.97L291.66,574.53L292.31,574.09L292.96,573.64L293.61,573.20L294.25,572.74L294.90,572.29L295.54,571.84L296.18,571.39L296.83,570.94L297.47,570.49L298.12,570.04L298.76,569.59L299.41,569.14L300.05,568.69L300.70,568.24L301.34,567.79L301.99,567.34L302.63,566.88L303.28,566.43L303.92,565.98L304.56,565.52L305.20,565.06L305.83,564.60L306.47,564.14L307.11,563.68L307.74,563.22L308.38,562.76L309.02,562.30L309.65,561.84L310.29,561.38L310.92,560.92L311.56,560.46L312.20,560.00L312.84,559.54L313.48,559.08L314.12,558.62L314.75,558.17L315.39,557.71L316.03,557.25L316.67,556.80L317.31,556.34L317.95,555.88L318.59,555.42L319.23,554.97L319.87,554.51L320.51,554.05L321.14,553.59L321.78,553.13L322.42,552.67L323.05,552.20L323.69,551.74L324.33,551.28L324.96,550.82L325.60,550.37L326.25,549.92L326.89,549.47L327.55,549.04L328.21,548.61L328.88,548.20L329.56,547.79L330.24,547.39L330.93,546.99L331.61,546.60L332.30,546.21L332.99,545.83L333.69,545.45L334.39,545.07L335.09,544.71L335.80,544.36L336.52,544.02L337.25,543.70L337.98,543.38L338.71,543.06L339.44,542.75L340.16,542.42L340.88,542.09L341.58,541.73L342.26,541.35L342.93,540.94L343.58,540.51L344.21,540.05L344.84,539.58L345.46,539.10L346.07,538.62L346.68,538.13L347.29,537.64L347.90,537.15L348.51,536.66L349.12,536.17L349.73,535.67L350.34,535.18L350.95,534.69L351.55,534.20L352.16,533.70L352.77,533.21L353.37,532.71L353.97,532.20L354.56,531.69L355.14,531.18L355.71,530.65L356.27,530.11L356.82,529.57L357.37,529.02L357.91,528.46L358.45,527.90L358.99,527.34L359.52,526.78L360.06,526.22L360.59,525.66L361.12,525.09L361.65,524.53L362.18,523.96L362.70,523.39L363.22,522.82L363.74,522.24L364.26,521.67L364.77,521.09L365.28,520.51L365.78,519.92L366.27,519.33L366.74,518.72L367.19,518.10L367.63,517.48L368.06,516.84L368.48,516.20L368.89,515.56L369.30,514.92L369.71,514.27L370.13,513.63L370.54,512.98L370.95,512.34L371.37,511.69L371.78,511.05L372.20,510.41L372.61,509.76L373.03,509.12L373.44,508.48L373.85,507.83L374.25,507.18L374.65,506.53L375.04,505.87L375.43,505.21L375.81,504.55L376.18,503.89L376.55,503.22L376.93,502.56L377.30,501.89L377.67,501.23L378.04,500.56L378.40,499.89L378.76,499.22L379.12,498.55L379.47,497.87L379.81,497.19L380.15,496.51L380.49,495.83L380.82,495.15L381.15,494.46L381.48,493.78L381.81,493.10L382.14,492.41L382.47,491.73L382.80,491.04L383.14,490.36L383.47,489.68L383.81,489.00L384.14,488.31L384.48,487.63L384.82,486.95L385.15,486.27L385.48,485.58L385.81,484.90L386.13,484.21L386.43,483.52L386.72,482.82L386.99,482.12L387.25,481.41L387.50,480.69L387.74,479.98L387.98,479.26L388.22,478.55L388.46,477.83L388.71,477.12L388.97,476.41L389.23,475.70L389.51,475.00L389.80,474.30L390.09,473.60L390.39,472.90L390.69,472.21L390.98,471.51L391.28,470.81L391.57,470.11L391.85,469.41L392.13,468.71L392.40,468.00L392.66,467.29L392.91,466.58L393.16,465.86L393.41,465.15L393.66,464.44L393.90,463.72L394.14,463.01L394.38,462.29L394.62,461.57L394.85,460.85L395.08,460.14L395.32,459.42L395.55,458.70L395.78,457.98L396.01,457.26L396.25,456.54L396.48,455.83L396.71,455.11L396.95,454.39L397.18,453.67L397.42,452.96L397.65,452.24L397.90,451.52L398.14,450.81L398.40,450.10L398.67,449.40L398.95,448.69L399.25,448.00L399.56,447.31L399.88,446.62L400.20,445.93L400.53,445.25L400.85,444.56L401.17,443.87L401.47,443.18L401.77,442.48L402.06,441.78L402.35,441.08L402.62,440.38L402.89,439.67L403.16,438.96L403.42,438.25L403.68,437.54L403.94,436.83L404.19,436.12L404.44,435.40L404.68,434.69L404.92,433.97L405.16,433.26L405.39,432.54L405.62,431.82L405.84,431.10L406.05,430.38L406.25,429.65L406.44,428.92L406.61,428.19L406.77,427.46L406.92,426.72L407.07,425.98L407.21,425.25L407.36,424.51L407.51,423.77L407.65,423.03L407.80,422.30L407.96,421.56L408.11,420.82L408.27,420.09L408.44,419.36L408.61,418.63L408.81,417.90L409.02,417.19L409.27,416.48L409.54,415.78L409.84,415.09L410.16,414.40L410.50,413.72L410.84,413.04L411.19,412.37L411.54,411.69L411.89,411.02L412.23,410.34L412.57,409.66L412.90,408.97L413.23,408.29L413.55,407.60L413.87,406.91L414.18,406.22L414.49,405.53L414.80,404.84L415.12,404.14L415.43,403.45L415.74,402.76L416.06,402.07L416.39,401.39L416.73,400.71L417.08,400.04L417.45,399.38L417.84,398.73L418.25,398.08L418.68,397.45L419.12,396.83L419.58,396.21L420.06,395.62L420.56,395.04L421.09,394.48L421.65,393.95L422.22,393.43L422.82,392.93L423.42,392.44L424.04,391.96L424.66,391.49L425.29,391.04L425.95,390.62L426.62,390.23L427.31,389.88L428.02,389.57L428.76,389.30L429.52,389.06L430.28,388.85L431.06,388.67L431.84,388.51L432.63,388.37L433.42,388.27L434.21,388.20L435.01,388.15L435.82,388.12L436.62,388.11L437.43,388.10L438.23,388.10L439.04,388.10L439.84,388.10L440.65,388.10L441.46,388.10L442.26,388.10L443.07,388.10L443.88,388.11L444.68,388.12L445.48,388.14L446.28,388.18L447.08,388.24L447.87,388.34L448.65,388.47L449.43,388.64L450.19,388.85L450.94,389.09L451.68,389.36L452.38,389.68L453.07,390.04L453.72,390.45L454.34,390.89L454.95,391.38L455.53,391.88L456.11,392.40L456.69,392.92L457.26,393.45L457.83,393.98L458.40,394.51L458.97,395.04L459.53,395.58L460.10,396.11L460.67,396.64L461.24,397.18L461.80,397.71L462.37,398.25L462.93,398.78L463.50,399.31L464.06,399.85L464.63,400.39L465.19,400.93L465.74,401.47L466.29,402.02L466.84,402.57L467.38,403.12L467.92,403.68L468.46,404.24L468.99,404.81L469.52,405.37L470.05,405.94L470.58,406.50L471.10,407.07L471.62,407.65L472.13,408.23L472.63,408.82L473.12,409.41L473.60,410.01L474.07,410.62L474.54,411.23L475.01,411.84L475.48,412.45L475.94,413.06L476.41,413.67L476.87,414.29L477.34,414.90L477.81,415.51L478.27,416.12L478.74,416.73L479.21,417.34L479.68,417.95L480.15,418.56L480.62,419.18L481.09,419.79L481.55,420.40L482.02,421.01L482.48,421.62L482.94,422.24L483.38,422.87L483.81,423.50L484.23,424.14L484.64,424.78L485.04,425.43L485.44,426.09L485.83,426.74L486.21,427.40L486.60,428.06L486.99,428.72L487.37,429.38L487.76,430.03L488.14,430.69L488.53,431.35L488.92,432.01L489.30,432.67L489.69,433.33L490.07,433.99L490.46,434.64L490.84,435.30L491.23,435.96L491.61,436.62L492.00,437.28L492.38,437.94L492.75,438.61L493.12,439.27L493.49,439.94L493.85,440.61L494.21,441.28L494.57,441.95L494.93,442.63L495.28,443.30L495.64,443.97L496.00,444.65L496.35,445.32L496.71,445.99L497.07,446.66L497.42,447.34L497.78,448.01L498.13,448.68L498.49,449.36L498.85,450.03L499.20,450.70L499.56,451.38L499.91,452.05L500.27,452.72L500.63,453.40L500.98,454.07L501.34,454.74L501.69,455.41L502.05,456.09L502.41,456.76L502.77,457.43L503.13,458.10L503.49,458.77L503.85,459.44L504.21,460.12L504.57,460.79L504.93,461.46L505.30,462.13L505.66,462.80L506.02,463.47L506.38,464.14L506.74,464.81L507.11,465.48L507.47,466.15L507.83,466.82L508.19,467.49L508.56,468.16L508.92,468.83L509.28,469.50L509.64,470.17L510.01,470.84L510.37,471.51L510.73,472.18L511.09,472.85L511.45,473.52L511.82,474.19L512.18,474.86L512.54,475.53L512.90,476.20L522.80,499.30L532.69,522.40L532.95,523.11L533.20,523.82L533.46,524.53L533.72,525.25L533.98,525.96L534.23,526.67L534.49,527.38L534.75,528.09L535.01,528.80L535.26,529.51L535.52,530.23L535.78,530.94L536.04,531.65L536.29,532.36L536.55,533.07L536.81,533.78L537.06,534.49L537.32,535.21L537.58,535.92L537.84,536.63L538.09,537.34L538.35,538.05L538.61,538.76L538.87,539.48L539.12,540.19L539.37,540.90L539.62,541.61L539.86,542.33L540.10,543.05L540.32,543.77L540.53,544.49L540.74,545.22L540.94,545.94L541.14,546.67L541.34,547.40L541.53,548.13L541.73,548.86L541.92,549.58L542.12,550.31L542.31,551.04L542.51,551.77L542.70,552.50L542.90,553.23L543.09,553.96L543.29,554.68L543.48,555.41L543.68,556.14L543.87,556.87L544.06,557.60L544.26,558.33L544.45,559.06L544.64,559.79L544.82,560.52L545.00,561.25L545.17,561.98L545.34,562.72L545.50,563.45L545.65,564.19L545.80,564.93L545.95,565.66L546.10,566.40L546.24,567.14L546.39,567.88L546.54,568.62L546.68,569.35L546.83,570.09L546.98,570.83L547.12,571.57L547.27,572.31L547.42,573.05L547.56,573.78L547.71,574.52L547.86,575.26L548.01,576.00L548.16,576.73L548.31,577.47L548.48,578.20L548.67,578.93L548.88,579.65L549.11,580.36L549.37,581.07L549.64,581.77L549.94,582.47L550.25,583.16L550.57,583.85L550.89,584.53L551.23,585.20L551.58,585.86L551.97,586.48L552.40,587.06L552.89,587.57L553.44,588.02L554.06,588.41L554.74,588.74L555.45,589.03L556.19,589.29L556.94,589.54L557.70,589.79L558.47,590.02L559.23,590.26L560.00,590.50L1011.83,590.90" fill="none" stroke="#008000" stroke-width="4.5" stroke-linejoin="round" stroke-linecap="butt"/>
<path transform="scale(0.93,1)" d="M128.60,680.30L172.15,679.80L173.44,676.10L255.16,676.10L257.74,674.10L284.19,673.60L284.99,673.48L285.79,673.35L286.58,673.23L287.38,673.11L288.18,672.99L288.97,672.86L289.77,672.74L290.57,672.62L291.36,672.50L292.16,672.37L292.96,672.25L293.75,672.13L294.55,672.01L295.35,671.88L296.14,671.76L296.94,671.64L297.74,671.52L298.53,671.41L299.33,671.30L300.13,671.21L300.93,671.13L301.74,671.07L302.54,671.03L303.35,671.00L304.15,670.98L304.96,670.96L305.76,670.95L306.57,670.93L307.36,670.90L308.14,670.85L308.89,670.75L309.60,670.59L310.26,670.35L310.86,670.03L311.42,669.62L311.94,669.17L312.46,668.70L313.00,668.25L313.59,667.87L314.22,667.55L314.91,667.32L315.65,667.14L316.42,667.01L317.20,666.90L318.00,666.81L318.80,666.73L319.60,666.64L320.40,666.56L321.20,666.47L322.00,666.38L322.81,666.29L323.61,666.19L324.40,666.08L325.20,665.97L326.00,665.86L326.80,665.75L327.60,665.63L328.40,665.51L329.19,665.40L329.99,665.28L330.79,665.17L331.59,665.05L332.38,664.94L333.18,664.82L333.98,664.71L334.78,664.60L335.58,664.49L336.38,664.38L337.18,664.27L337.97,664.16L338.77,664.05L339.57,663.94L340.37,663.83L341.17,663.72L341.96,663.60L342.76,663.47L343.55,663.33L344.33,663.16L345.10,662.96L345.86,662.74L346.61,662.49L347.36,662.21L348.11,661.92L348.85,661.63L349.59,661.33L350.32,661.03L351.06,660.73L351.81,660.43L352.55,660.14L353.30,659.87L354.06,659.60L354.81,659.35L355.58,659.11L356.35,658.88L357.12,658.65L357.89,658.43L358.66,658.21L359.43,657.99L360.20,657.78L360.98,657.56L361.75,657.34L362.52,657.13L363.30,656.92L364.08,656.71L364.85,656.51L365.63,656.30L366.41,656.10L367.18,655.89L367.96,655.68L368.73,655.48L369.51,655.26L370.27,655.04L371.04,654.80L371.79,654.54L372.53,654.26L373.26,653.95L373.97,653.61L374.68,653.26L375.38,652.89L376.08,652.52L376.78,652.14L377.48,651.76L378.17,651.38L378.87,651.00L379.57,650.62L380.27,650.25L380.97,649.88L381.68,649.51L382.38,649.15L383.09,648.79L383.80,648.44L384.51,648.08L385.22,647.72L385.92,647.35L386.62,646.97L387.31,646.58L387.98,646.18L388.65,645.76L389.31,645.33L389.94,644.87L390.57,644.40L391.18,643.92L391.79,643.43L392.40,642.94L393.01,642.47L393.64,642.01L394.29,641.57L394.96,641.16L395.64,640.77L396.33,640.39L397.04,640.02L397.74,639.66L398.45,639.30L399.16,638.95L399.87,638.59L400.58,638.23L401.28,637.87L401.97,637.49L402.63,637.08L403.27,636.65L403.88,636.18L404.46,635.68L405.00,635.14L405.51,634.57L406.00,633.98L406.45,633.37L406.88,632.75L407.28,632.10L407.65,631.44L408.01,630.77L408.37,630.11L408.74,629.44L409.12,628.78L409.52,628.14L409.94,627.50L410.38,626.87L410.84,626.26L411.32,625.65L411.80,625.06L412.30,624.47L412.81,623.89L413.33,623.31L413.84,622.73L414.36,622.15L414.88,621.58L415.39,621.00L415.90,620.41L416.41,619.83L416.92,619.25L417.43,618.67L417.96,618.10L418.49,617.55L419.04,617.00L419.61,616.47L420.18,615.95L420.76,615.43L421.34,614.91L421.90,614.38L422.44,613.83L422.96,613.26L423.45,612.68L423.93,612.08L424.39,611.46L424.85,610.84L425.30,610.22L425.74,609.59L426.17,608.96L426.59,608.32L427.01,607.68L427.41,607.03L427.81,606.38L428.21,605.72L428.61,605.07L429.01,604.42L429.42,603.78L429.84,603.14L430.29,602.52L430.75,601.91L431.24,601.32L431.75,600.74L432.27,600.17L432.80,599.61L433.35,599.06L433.90,598.51L434.46,597.97L435.03,597.46L435.62,596.97L436.24,596.52L436.89,596.11L437.57,595.75L438.28,595.42L439.01,595.13L439.76,594.87L440.51,594.64L441.28,594.45L442.05,594.30L442.83,594.21L443.61,594.17L444.39,594.19L445.17,594.26L445.93,594.40L446.67,594.59L447.38,594.86L448.07,595.18L448.73,595.57L449.37,595.99L450.01,596.44L450.63,596.91L451.25,597.39L451.86,597.88L452.47,598.37L453.08,598.86L453.69,599.36L454.28,599.87L454.87,600.38L455.45,600.90L456.03,601.42L456.60,601.96L457.15,602.50L457.69,603.05L458.21,603.61L458.71,604.19L459.17,604.80L459.60,605.42L460.00,606.06L460.39,606.72L460.76,607.39L461.12,608.05L461.48,608.73L461.84,609.40L462.20,610.07L462.55,610.74L462.91,611.42L463.27,612.09L463.64,612.76L464.00,613.43L464.36,614.10L464.72,614.78L465.08,615.45L465.44,616.12L465.80,616.79L466.17,617.46L466.53,618.13L466.90,618.80L467.26,619.47L467.62,620.14L467.99,620.81L468.35,621.48L468.72,622.15L469.08,622.82L469.45,623.49L469.81,624.16L470.17,624.83L470.54,625.50L470.90,626.18L471.26,626.85L471.62,627.52L471.99,628.19L472.35,628.86L472.72,629.52L473.10,630.18L473.50,630.84L473.91,631.48L474.34,632.11L474.79,632.73L475.26,633.33L475.74,633.93L476.24,634.52L476.74,635.11L477.24,635.70L477.74,636.29L478.25,636.87L478.76,637.45L479.28,638.03L479.80,638.60L480.33,639.17L480.86,639.73L481.40,640.29L481.95,640.84L482.50,641.39L483.05,641.94L483.61,642.48L484.18,643.00L484.76,643.50L485.37,643.97L486.00,644.39L486.67,644.76L487.37,645.06L488.09,645.29L488.82,645.43L489.58,645.48L490.33,645.45L491.09,645.34L491.84,645.17L492.59,644.93L493.33,644.66L494.05,644.35L494.77,644.02L495.49,643.68L496.20,643.33L496.92,642.97L497.62,642.61L498.33,642.25L499.04,641.88L499.74,641.52L500.44,641.14L501.14,640.77L501.84,640.39L502.53,640.00L503.23,639.62L503.92,639.24L504.62,638.86L505.31,638.47L506.00,638.09L506.70,637.71L507.39,637.32L508.09,636.94L508.78,636.56L509.47,636.17L510.17,635.78L510.86,635.39L511.54,635.00L512.22,634.59L512.89,634.18L513.56,633.76L514.22,633.33L514.88,632.90L515.54,632.46L516.19,632.02L516.84,631.57L517.49,631.12L518.13,630.67L518.77,630.21L519.40,629.74L520.01,629.26L520.62,628.77L521.22,628.27L521.81,627.76L522.40,627.24L522.98,626.72L523.56,626.20L524.14,625.68L524.72,625.16L525.30,624.64L525.88,624.11L526.47,623.59L527.05,623.07L527.63,622.56L528.22,622.04L528.82,621.53L529.42,621.03L530.03,620.54L530.64,620.06L531.27,619.59L531.90,619.12L532.53,618.65L533.17,618.19L533.80,617.72L534.44,617.26L535.07,616.80L535.71,616.33L536.35,615.87L536.98,615.41L537.62,614.95L538.25,614.48L538.89,614.02L539.53,613.56L540.16,613.10L540.80,612.64L541.44,612.18L542.08,611.72L542.72,611.26L543.36,610.80L543.99,610.34L544.63,609.88L545.27,609.42L545.91,608.96L546.55,608.50L547.19,608.04L547.83,607.58L548.46,607.12L549.09,606.65L549.72,606.18L550.33,605.69L550.92,605.19L551.50,604.67L552.06,604.14L552.61,603.59L553.15,603.04L553.68,602.47L554.20,601.90L554.73,601.33L555.25,600.76L555.77,600.18L556.29,599.61L556.81,599.03L557.32,598.45L557.82,597.86L558.31,597.27L558.79,596.67L559.26,596.06L559.72,595.44L560.18,594.82L560.63,594.20L561.08,593.58L561.53,592.95L561.99,592.34L562.45,591.73L562.94,591.13L563.43,590.54L563.95,589.97L564.49,589.42L565.04,588.87L565.60,588.34L566.17,587.80L566.75,587.27L567.32,586.75L567.90,586.22L568.47,585.70L569.06,585.17L569.64,584.66L570.23,584.14L570.82,583.64L571.43,583.14L572.03,582.64L572.65,582.16L573.26,581.67L573.88,581.19L574.50,580.70L575.12,580.22L575.74,579.74L576.36,579.26L576.98,578.78L577.60,578.30L578.22,577.82L578.84,577.34L579.47,576.86L580.09,576.39L580.71,575.91L581.34,575.43L581.96,574.95L582.58,574.48L583.21,574.01L583.84,573.54L584.48,573.08L585.12,572.62L585.77,572.18L586.43,571.74L587.09,571.31L587.75,570.89L588.42,570.47L589.09,570.05L589.76,569.63L590.44,569.22L591.12,568.82L591.81,568.42L592.50,568.04L593.20,567.67L593.90,567.31L594.62,566.95L595.33,566.61L596.05,566.27L596.77,565.94L597.50,565.62L598.24,565.31L598.98,565.03L599.73,564.78L600.49,564.56L601.27,564.37L602.05,564.20L602.83,564.06L603.62,563.94L604.42,563.85L605.21,563.79L606.00,563.78L606.79,563.81L607.58,563.88L608.35,564.01L609.10,564.19L609.83,564.43L610.53,564.73L611.20,565.09L611.84,565.51L612.45,565.96L613.06,566.45L613.65,566.95L614.24,567.46L614.82,567.98L615.41,568.50L615.99,569.02L616.57,569.54L617.14,570.07L617.71,570.60L618.28,571.13L618.85,571.67L619.42,572.20L619.99,572.73L620.55,573.27L621.12,573.81L621.68,574.34L622.24,574.88L622.80,575.43L623.35,575.97L623.90,576.53L624.43,577.09L624.96,577.65L625.48,578.23L626.00,578.80L626.52,579.38L627.04,579.95L627.55,580.53L628.07,581.11L628.58,581.69L629.09,582.27L629.60,582.86L630.10,583.44L630.60,584.03L631.09,584.63L631.57,585.23L632.05,585.84L632.53,586.44L633.00,587.05L633.47,587.66L633.95,588.27L634.42,588.88L634.89,589.49L635.35,590.10L635.81,590.72L636.27,591.34L636.70,591.96L637.12,592.60L637.52,593.25L637.89,593.91L638.25,594.58L638.59,595.26L638.92,595.95L639.24,596.63L639.56,597.32L639.88,598.01L640.20,598.70L640.52,599.39L640.85,600.08L641.18,600.76L641.53,601.43L641.89,602.10L642.26,602.77L642.64,603.43L643.03,604.09L643.43,604.74L643.83,605.39L644.23,606.05L644.63,606.70L645.03,607.35L645.43,608.00L645.82,608.66L646.20,609.32L646.57,609.99L646.92,610.66L647.26,611.34L647.58,612.03L647.89,612.72L648.18,613.42L648.47,614.12L648.76,614.82L649.05,615.52L649.33,616.22L649.62,616.93L649.90,617.63L650.19,618.33L650.49,619.03L650.79,619.72L651.10,620.41L651.42,621.10L651.76,621.78L652.10,622.46L652.45,623.14L652.81,623.81L653.17,624.49L653.53,625.16L653.89,625.83L654.25,626.50L654.61,627.17L654.97,627.85L655.32,628.52L655.67,629.20L656.01,629.88L656.34,630.56L656.65,631.25L656.94,631.95L657.22,632.65L657.50,633.36L657.76,634.07L658.02,634.78L658.28,635.49L658.53,636.20L658.79,636.91L659.04,637.63L659.30,638.34L659.56,639.05L659.83,639.76L660.11,640.46L660.40,641.15L660.72,641.84L661.07,642.51L661.44,643.16L661.84,643.81L662.26,644.45L662.70,645.08L663.14,645.70L663.59,646.33L664.04,646.95L664.49,647.57L664.95,648.19L665.41,648.81L665.88,649.42L666.36,650.02L666.84,650.62L667.34,651.21L667.84,651.80L668.34,652.39L668.85,652.97L669.36,653.55L669.87,654.13L670.39,654.71L670.90,655.29L671.42,655.86L671.95,656.43L672.49,656.98L673.05,657.52L673.62,658.05L674.21,658.56L674.81,659.05L675.42,659.54L676.04,660.03L676.66,660.51L677.28,660.99L677.90,661.47L678.53,661.94L679.16,662.41L679.79,662.87L680.44,663.31L681.10,663.73L681.78,664.14L682.47,664.52L683.17,664.88L683.88,665.23L684.60,665.57L685.32,665.89L686.05,666.20L686.79,666.48L687.54,666.72L688.30,666.93L689.07,667.09L689.86,667.21L690.65,667.30L691.45,667.37L692.25,667.42L693.06,667.47L693.86,667.52L694.66,667.57L695.46,667.63L696.25,667.71L697.03,667.82L697.79,667.98L698.53,668.19L699.24,668.46L699.92,668.80L700.58,669.19L701.23,669.61L701.86,670.06L702.49,670.53L703.12,671.00L731.18,671.30L980.00,671.40" fill="none" stroke="#000000" stroke-width="4.5" stroke-linejoin="round" stroke-linecap="butt"/>
<polyline points="902,673.3 941,673.3" fill="none" stroke="#000" stroke-width="4.6"/>
<rect x="778" y="673" width="4.5" height="2.8" fill="#000"/>
<rect x="784.3" y="673" width="5.7" height="2.8" fill="#000"/>
<rect x="790.8" y="673" width="8.4" height="2.8" fill="#000"/>
<rect x="800" y="673" width="6" height="2.8" fill="#000"/>
<rect x="813.3" y="673" width="2.8" height="2.8" fill="#000"/>
<text transform="translate(83.0,797.6) scale(0.9,1)" text-anchor="middle" class="tl">0</text><text transform="translate(190.6,797.6) scale(0.9,1)" text-anchor="middle" class="tl">100</text><text transform="translate(298.9,797.6) scale(0.9,1)" text-anchor="middle" class="tl">200</text><text transform="translate(406.1,797.6) scale(0.9,1)" text-anchor="middle" class="tl">300</text><text transform="translate(513.4,797.6) scale(0.9,1)" text-anchor="middle" class="tl">400</text><text transform="translate(618.9,797.6) scale(0.9,1)" text-anchor="middle" class="tl">500</text><text transform="translate(727.7,797.6) scale(0.9,1)" text-anchor="middle" class="tl">600</text><text transform="translate(833.7,797.6) scale(0.9,1)" text-anchor="middle" class="tl">700</text><text transform="translate(940.9,797.6) scale(0.9,1)" text-anchor="middle" class="tl">800</text>
<text transform="translate(643.93,330.2) scale(0.983,1)" class="sl">Cu100</text><text transform="translate(638.53,408.6) scale(0.983,1)" class="sl">Cu67Mn33</text><text transform="translate(660.13,489.2) scale(0.983,1)" class="sl">Cu50Mn50</text><text transform="translate(698.83,569.6) scale(0.983,1)" class="sl">Cu33Mn67</text><text transform="translate(751.33,648.6) scale(0.983,1)" class="sl">Mn100</text>
<text transform="translate(402,846) scale(0.956,1)" class="ax">Temperature (°C)</text>
<text transform="translate(40.1,495.4) rotate(-90) scale(0.969,1)" class="ax">TCD Signal (a.u.)</text>
</svg>
</body></html>
